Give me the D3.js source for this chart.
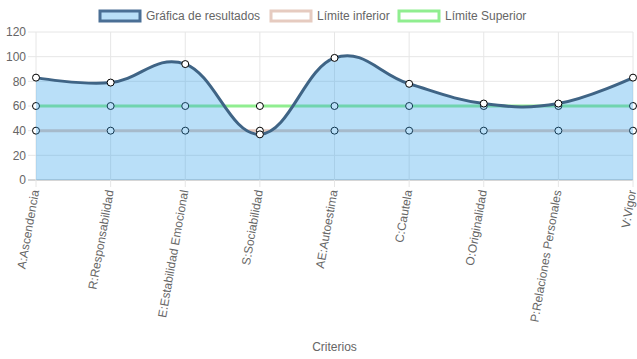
<!DOCTYPE html>
<html>
<head>
<meta charset="utf-8">
<script src="https://cdn.jsdelivr.net/npm/d3@7"></script>
<style>
  body { margin: 0; background: #fff; }
  text { font-family: "Liberation Sans", Arial, sans-serif; fill: #666; }
</style>
</head>
<body>
<div id="chart"></div>
<script>
// data
var categories = ["A:Ascendencia", "R:Responsabilidad", "E:Estabilidad Emocional", "S:Sociabilidad",
  "AE:Autoestima", "C:Cautela", "O:Originalidad", "P:Relaciones Personales", "V:Vigor"];
var resultados = [83, 79, 94, 37, 99, 78, 62, 62, 83];
var limiteInferior = [40, 40, 40, 40, 40, 40, 40, 40, 40];
var limiteSuperior = [60, 60, 60, 60, 60, 60, 60, 60, 60];
var yTicks = [0, 20, 40, 60, 80, 100, 120];
var seriesNames = ["Gráfica de resultados", "Límite inferior", "Límite Superior"];

var W = 637, H = 359;
var margin = {top: 32, right: 4, bottom: 179, left: 36};
var width = W - margin.left - margin.right;
var height = H - margin.top - margin.bottom;

var svg = d3.select("#chart").append("svg")
    .attr("width", W)
    .attr("height", H);

var x = d3.scalePoint().domain(categories).range([0, width]);
var y = d3.scaleLinear().domain([0, 120]).range([height, 0]);

var g = svg.append("g")
    .attr("transform", "translate(" + margin.left + "," + margin.top + ")");

// grid lines
g.selectAll(".hgrid").data(yTicks).enter().append("line")
    .attr("x1", -8).attr("x2", width)
    .attr("y1", function(d){ return y(d); })
    .attr("y2", function(d){ return y(d); })
    .attr("stroke", function(d){ return d === 0 ? "#d6d6d6" : "#e6e6e6"; })
    .attr("stroke-width", function(d){ return d === 0 ? 2 : 1; });
g.selectAll(".vgrid").data(categories).enter().append("line")
    .attr("x1", function(d){ return x(d); })
    .attr("x2", function(d){ return x(d); })
    .attr("y1", 0).attr("y2", height + 7)
    .attr("stroke", "#e6e6e6");

// y tick labels
g.selectAll(".ylab").data(yTicks).enter().append("text")
    .attr("x", -10)
    .attr("y", function(d){ return y(d); })
    .attr("dy", "0.35em")
    .attr("text-anchor", "end")
    .style("font-size", "12px")
    .text(function(d){ return d; });

// x tick labels
g.selectAll(".xlab").data(categories).enter().append("text")
    .attr("transform", function(d){ return "translate(" + (x(d) - 1) + "," + (height + 10) + ") rotate(-80)"; })
    .attr("dy", "0.35em")
    .attr("text-anchor", "end")
    .style("font-size", "12px")
    .text(function(d){ return d; });

var curve = d3.curveCardinal.tension(-0.2);
var line = d3.line()
    .x(function(d, i){ return x(categories[i]); })
    .y(function(d){ return y(d); })
    .curve(curve);
var area = d3.area()
    .x(function(d, i){ return x(categories[i]); })
    .y0(y(0))
    .y1(function(d){ return y(d); })
    .curve(curve);

function drawPoints(data, stroke) {
  g.append("g").selectAll("circle").data(data).enter().append("circle")
      .attr("cx", function(d, i){ return x(categories[i]); })
      .attr("cy", function(d){ return y(d); })
      .attr("r", 3.5)
      .attr("fill", "#fff")
      .attr("stroke", stroke)
      .attr("stroke-width", 1);
}

// limit lines (drawn under the results fill)
g.append("path").datum(limiteSuperior)
    .attr("d", line).attr("fill", "none")
    .attr("stroke", "#90ee90").attr("stroke-width", 3);
g.append("path").datum(limiteInferior)
    .attr("d", line).attr("fill", "none")
    .attr("stroke", "#e2c6bb").attr("stroke-width", 3);
drawPoints(limiteSuperior, "#000");
drawPoints(limiteInferior, "#000");

// results
g.append("path").datum(resultados)
    .attr("d", area)
    .attr("fill", "rgba(54,162,235,0.35)");
g.append("path").datum(resultados)
    .attr("d", line).attr("fill", "none")
    .attr("stroke", "#3f6485").attr("stroke-width", 3);
drawPoints(resultados, "#000");

// legend
var legendX = [99, 270, 398];
var legendStyle = [
  {fill: "rgba(54,162,235,0.35)", stroke: "#4a6f95"},
  {fill: "rgba(255,255,255,0)", stroke: "#e6cbc0"},
  {fill: "rgba(255,255,255,0)", stroke: "#90ee90"}
];
var legend = svg.append("g").selectAll("g").data(seriesNames).enter().append("g")
    .attr("transform", function(d, i){ return "translate(" + legendX[i] + ",10)"; });
legend.append("rect")
    .attr("x", 1).attr("y", 1).attr("width", 40).attr("height", 10)
    .attr("fill", function(d, i){ return legendStyle[i].fill; })
    .attr("stroke", function(d, i){ return legendStyle[i].stroke; })
    .attr("stroke-width", 3);
legend.append("text")
    .attr("x", 47).attr("y", 6)
    .attr("dy", "0.35em")
    .style("font-size", "12px")
    .text(function(d){ return d; });

// axis title
svg.append("text")
    .attr("x", margin.left + width / 2)
    .attr("y", 347)
    .attr("dy", "0.35em")
    .attr("text-anchor", "middle")
    .style("font-size", "12px")
    .text("Criterios");
</script>
</body>
</html>
